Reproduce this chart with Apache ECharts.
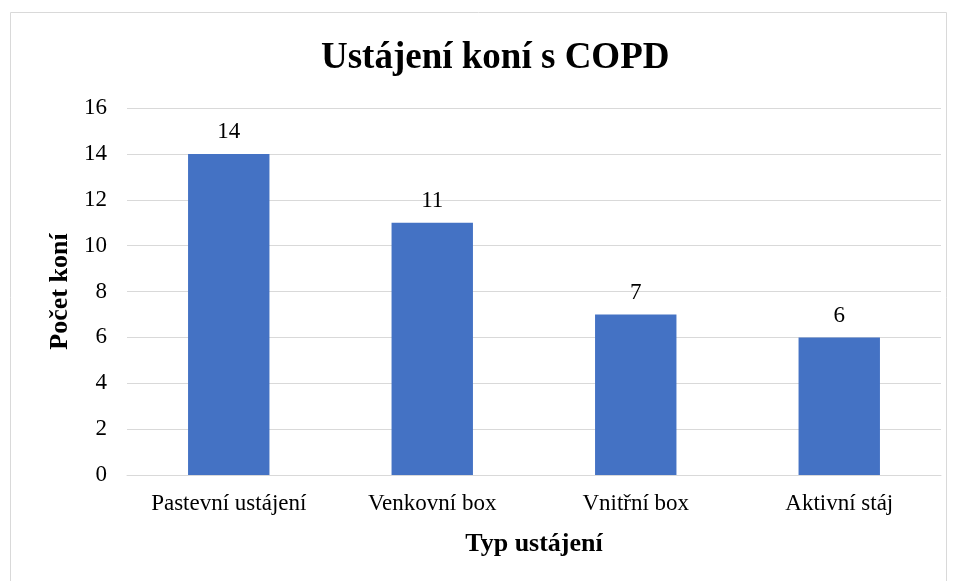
<!DOCTYPE html>
<html><head><meta charset="utf-8">
<script src="https://cdn.jsdelivr.net/npm/echarts@6/dist/echarts.min.js"></script>
<style>html,body{margin:0;padding:0;background:#fff}#c{width:957px;height:581px}</style>
</head><body><div id="c"></div>
<script>
const categories = ["Pastevní ustájení", "Venkovní box", "Vnitřní box", "Aktivní stáj"];
const values = [14, 11, 7, 6];
const font = "'Liberation Serif','Times New Roman',serif";
const chart = echarts.init(document.getElementById('c'));
chart.setOption({
  animation: false,
  graphic: [{type:'rect', shape:{x:10.5,y:12.5,width:936,height:600}, style:{fill:'none', stroke:'#d9d9d9', lineWidth:1}, silent:true}],
  title: {text: 'Ustájení koní s COPD', left: 316, top: 35, textStyle:{fontFamily:font, fontSize:37, fontWeight:'bold', color:'#000'}},
  grid: {left: 127, right: 16, top: 108, bottom: 106},
  xAxis: {type:'category', data: categories,
    name:'Typ ustájení', nameLocation:'middle', nameGap:56,
    nameTextStyle:{fontFamily:font, fontSize:26, fontWeight:'bold', color:'#000'},
    axisLine:{lineStyle:{color:'#d9d9d9', width:1}}, axisTick:{show:false},
    axisLabel:{fontFamily:font, fontSize:23, color:'#000', margin:17}},
  yAxis: {type:'value', min:0, max:16, interval:2,
    name:'Počet koní', nameLocation:'middle', nameGap:53,
    nameTextStyle:{fontFamily:font, fontSize:26, fontWeight:'bold', color:'#000'},
    axisLine:{show:false}, axisTick:{show:false},
    splitLine:{lineStyle:{color:'#d9d9d9', width:1}},
    axisLabel:{fontFamily:font, fontSize:23, color:'#000', margin:20}},
  series: [{type:'bar', data: values, barCategoryGap:'60%',
    itemStyle:{color:'#4472C4'},
    label:{show:true, position:'top', distance:10, fontFamily:font, fontSize:23, color:'#000'}}]
});
</script></body></html>
